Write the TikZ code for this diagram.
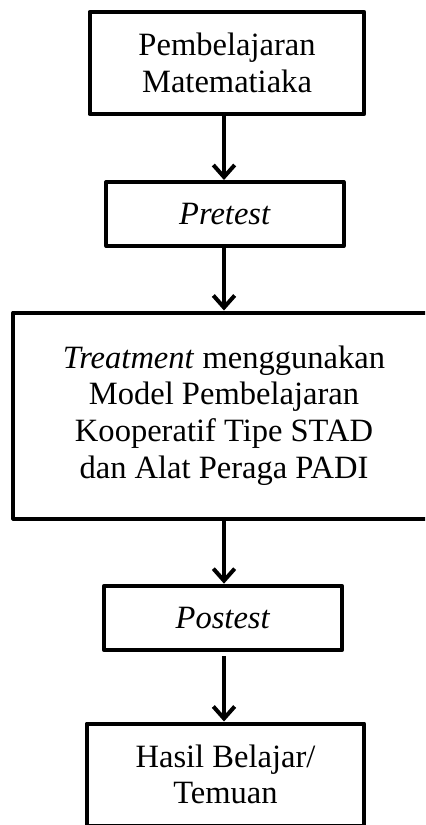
\documentclass[tikz,border=0pt]{standalone}
\usepackage{fontspec}
\setmainfont{Liberation Serif}
\usetikzlibrary{arrows.meta}

\begin{document}
\begin{tikzpicture}[x=0.75pt, y=-0.75pt,
  stage/.style={draw, line width=3pt, line join=round, align=center, inner sep=0pt, font=\fontsize{24.4}{27.5}\selectfont},
  flow/.style={line width=3pt, -{Straight Barb[length=9pt, width=16pt, line width=3pt]}}]
  \useasboundingbox (0,0) rectangle (425,825);
  \clip (0,0) rectangle (425,825);

  \node[stage, minimum width=206pt, minimum height=76.5pt] (belajar) at (227,63) {Pembelajaran\\Matematiaka};
  \node[stage, minimum width=178pt, minimum height=48pt] (pre) at (225,214) {\textit{Pretest}};
  \node[stage, minimum width=316pt, minimum height=154.5pt] (treat) at (224,415.5) {\textit{Treatment} menggunakan\\Model Pembelajaran\\Kooperatif Tipe STAD\\dan Alat Peraga PADI};
  \node[stage, minimum width=178pt, minimum height=48.5pt] (post) at (223,618) {\textit{Postest}};
  \node[stage, minimum width=208pt, minimum height=76.5pt] (hasil) at (225.5,774.5) {Hasil Belajar/\\Temuan};

  \draw[flow] (belajar.south -| 224,0) -- (pre.north -| 224,0);
  \draw[flow] (pre.south -| 224,0) -- (treat.north -| 224,0);
  \draw[flow] (treat.south -| 224,0) -- (post.north -| 224,0);
  \draw[flow, shorten <=3pt] (post.south -| 224,0) -- (hasil.north -| 224,0);
\end{tikzpicture}
\end{document}
